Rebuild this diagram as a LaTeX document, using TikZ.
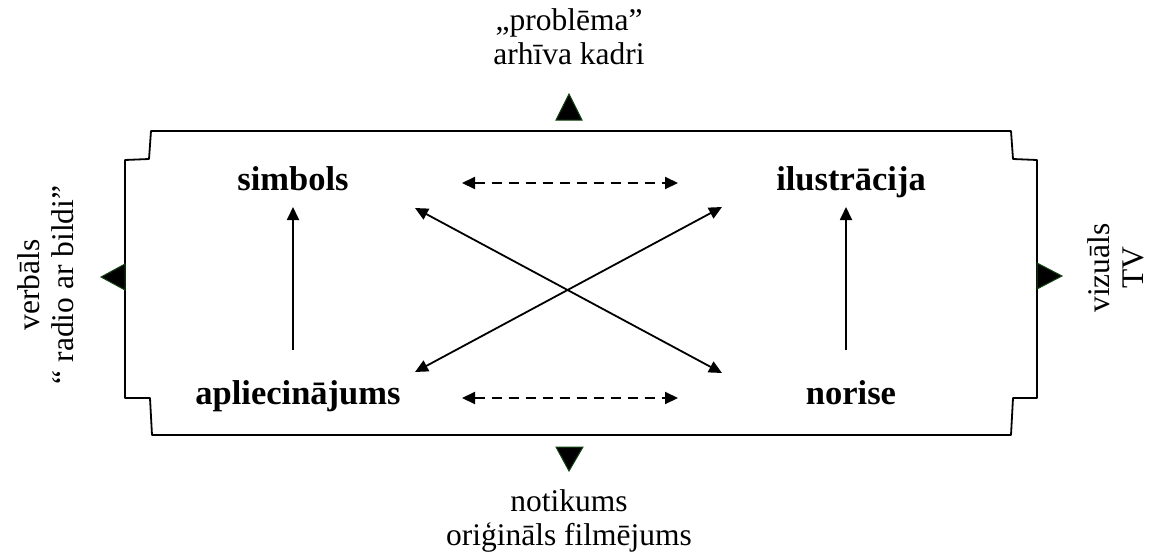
\documentclass[tikz,border=0pt]{standalone}
\usepackage{fontspec}
\setmainfont{Liberation Serif}
\usetikzlibrary{arrows.meta}
\begin{document}
\begin{tikzpicture}[x=1pt,y=-1pt,
  txt/.style={font=\fontsize{31.5}{34}\selectfont, inner sep=0pt, align=center},
  lbl/.style={font=\fontsize{34.5}{38}\selectfont\bfseries, inner sep=0pt, anchor=base},
  conn/.style={line width=1.8pt, {Triangle[length=13pt,width=12pt]}-{Triangle[length=13pt,width=12pt]}},
  upconn/.style={line width=1.8pt, -{Triangle[length=13pt,width=12pt]}},
  dconn/.style={conn, line width=2pt, dash pattern=on 10pt off 7pt},
  frame/.style={line width=1.8pt, line join=round},
  tri/.style={fill=black, draw={rgb,255:red,20;green,70;blue,20}, line width=1pt, line join=miter}
]
\useasboundingbox (0,0) rectangle (1154,554);

% frame
\draw[frame] (151,131) -- (1011,131) -- (1013,159) -- (1037,160) -- (1037,398)
  -- (1013,398) -- (1011,435) -- (152,435) -- (150,398) -- (125,398)
  -- (125,160) -- (149,159) -- cycle;

% direction triangles
\path[tri] (556,120) -- (582,120) -- (569,94) -- cycle;
\path[tri] (556,447) -- (583,447) -- (569,471) -- cycle;
\path[tri] (125,264) -- (125,290) -- (101,277) -- cycle;
\path[tri] (1037,263) -- (1037,289) -- (1062,276) -- cycle;

% outer texts
\node[txt] (top) at (569,37) {„problēma”\\arhīva kadri};
\node[txt] (bottom) at (569,521) {notikums\\oriģināls filmējums};
\node[txt, rotate=90] (left) at (46,285) {verbāls\\“ radio ar bildi”};
\node[txt, rotate=90] (right) at (1116,268) {vizuāls\\TV};

% inner labels
\node[lbl] (simbols) at (293,190) {simbols};
\node[lbl] (ilustr) at (851,190) {ilustrācija};
\node[lbl] (aplie) at (298,404) {apliecinājums};
\node[lbl] (norise) at (851,404) {norise};

% connector ends
\coordinate (sU) at (293,207);
\coordinate (sD) at (293,350);
\coordinate (iU) at (846,207);
\coordinate (iD) at (846,350);
\coordinate (tl) at (415,208);
\coordinate (tr) at (722,207);
\coordinate (bl) at (415,372);
\coordinate (br) at (722,373);
\coordinate (dtl) at (462,183);
\coordinate (dtr) at (678,183);
\coordinate (dbl) at (462,398);
\coordinate (dbr) at (678,398);

\draw[upconn] (sD) -- (sU);
\draw[upconn] (iD) -- (iU);
\draw[conn] (tl) -- (br);
\draw[conn] (tr) -- (bl);
\draw[dconn] (dtl) -- (dtr);
\draw[dconn] (dbl) -- (dbr);
\end{tikzpicture}
\end{document}
